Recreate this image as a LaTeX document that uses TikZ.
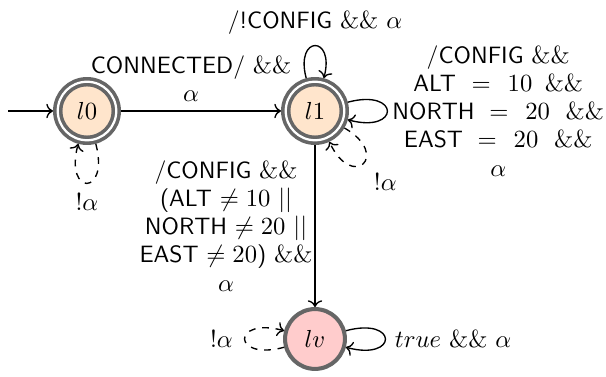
\documentclass[tikz,border=0pt]{standalone}
\usetikzlibrary{arrows.meta}
\definecolor{ring}{gray}{0.4}
\begin{document}
\begin{tikzpicture}[x=0.4444pt, y=0.4444pt, >={To[length=3pt,width=6.4pt]},
  font=\sffamily\fontsize{10.5}{12.5}\selectfont,
  accstate/.style={circle, draw=ring, line width=1.6pt, double=white,
    double distance=1pt, fill=orange!20, minimum size=26pt, inner sep=0pt,
    outer sep=2.1pt},
  badstate/.style={circle, draw=ring, line width=1.8pt, fill=red!20,
    minimum size=26.6pt, inner sep=0pt, outer sep=0.9pt},
  trans/.style={->, line width=0.6pt},
  silent/.style={->, line width=0.6pt, dashed},
  selfloop/.style={looseness=1, min distance=8.5mm},
  lbl/.style={align=center, inner sep=1pt}]
\useasboundingbox (0,0) rectangle (606,377);

% states
\node[accstate] (l0) at (87,266) {$l0$};
\node[accstate] (l1) at (315,266) {$l1$};
\node[badstate] (lv) at (315,38) {$lv$};
\coordinate (start) at (8,266);

% initial arrow
\draw[trans] (start) -- (l0);

% l0 -> l1
\draw[trans] (l0) -- node[above, lbl, xshift=-4.4pt, yshift=3pt]
  {CONNECTED/ $\&\&$\\$\alpha$} (l1);

% self loop of l0
\draw[silent] (l0) to[out=-75, in=-105, selfloop]
  node[below, inner sep=4pt] {$!\alpha$} (l0);

% self loops of l1
\draw[trans] (l1) to[out=105, in=75, selfloop, min distance=7mm]
  node[above, inner sep=4.5pt] {/!CONFIG $\&\&$ $\alpha$} (l1);
\draw[trans] (l1) to[out=15, in=-15, selfloop] node[right, lbl, inner sep=2pt]
  {/CONFIG $\&\&$\\
   ALT\hspace{7pt}$=$\hspace{7.5pt}$10$\hspace{5.5pt}$\&\&$\\
   NORTH\hspace{6.5pt}$=$\hspace{7.5pt}$20$\hspace{7pt}$\&\&$\\
   EAST\hspace{6.5pt}$=$\hspace{7.5pt}$20$\hspace{7pt}$\&\&$\\
   $\alpha$} (l1);
\draw[silent] (l1) to[out=-30, in=-65, selfloop]
  node[below right, inner sep=3pt, xshift=1.5pt, yshift=-1pt] {$!\alpha$} (l1);

% l1 -> lv
\draw[trans] (l1) -- node[left, lbl, inner sep=0.8pt]
  {/CONFIG $\&\&$\\
   (ALT $\neq 10$ $||$\\
   NORTH $\neq 20$ $||$\\
   EAST $\neq 20$) $\&\&$\\
   $\alpha$} (lv);

% self loops of lv
\draw[silent] (lv) to[out=195, in=165, selfloop]
  node[left, inner sep=5pt] {$!\alpha$} (lv);
\draw[trans] (lv) to[out=15, in=-15, selfloop]
  node[right, inner sep=4pt] {$true$ $\&\&$ $\alpha$} (lv);
\end{tikzpicture}
\end{document}
